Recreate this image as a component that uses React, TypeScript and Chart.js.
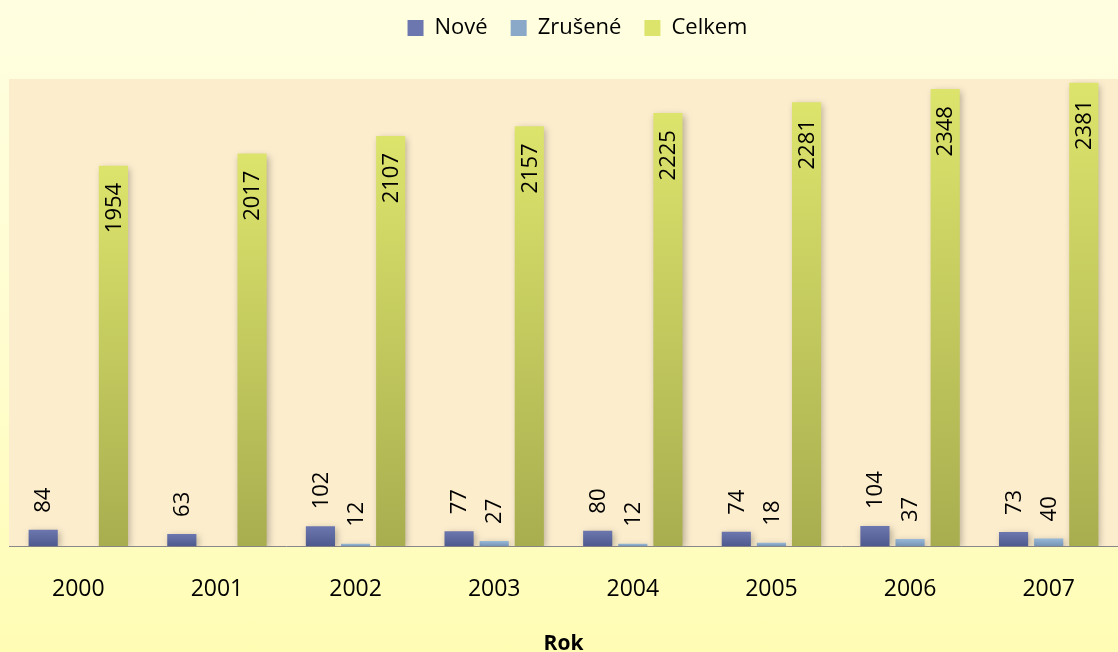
import React, { useEffect, useRef } from "react";
import { Chart, registerables } from "chart.js";

Chart.register(...registerables);

const years = ["2000", "2001", "2002", "2003", "2004", "2005", "2006", "2007"];
const nove = [84, 63, 102, 77, 80, 74, 104, 73];
const zrusene = [null, null, 12, 27, 12, 18, 37, 40];
const celkem = [1954, 2017, 2107, 2157, 2225, 2281, 2348, 2381];
const seriesNames = ["Nové", "Zrušené", "Celkem"];
const axisTitle = "Rok";

const FONT = "'Open Sans', 'Noto Sans', sans-serif";

const gradients: [string, string][] = [
  ["#6C77AF", "#4E5A8E"],
  ["#9ABAD9", "#7593B4"],
  ["#DDE46C", "#A8AE4F"],
];
const solids = ["#5D67A0", "#8AA9C9", "#C8CE5E"];

function barColor(i: number) {
  return (ctx: any) => {
    const chart = ctx.chart;
    const v = ctx.raw;
    if (!chart.chartArea || v == null || ctx.type !== "data") return solids[i];
    const y = chart.scales.y;
    const top = y.getPixelForValue(v);
    const bottom = y.getPixelForValue(0);
    const g = chart.ctx.createLinearGradient(0, top, 0, bottom);
    g.addColorStop(0, gradients[i][0]);
    g.addColorStop(1, gradients[i][1]);
    return g;
  };
}

const plotBg = {
  id: "plotBg",
  beforeDraw(chart: any) {
    const { ctx, chartArea } = chart;
    ctx.save();
    ctx.fillStyle = "#FCEDCD";
    ctx.fillRect(chartArea.left, chartArea.top, chartArea.right - chartArea.left, chartArea.bottom - chartArea.top);
    ctx.restore();
  },
};

const legendSpace = {
  id: "legendSpace",
  afterInit(chart: any) {
    const legend = chart.legend;
    if (!legend) return;
    const orig = legend.fit;
    legend.fit = function () {
      orig.call(this);
      this.height = 79;
    };
  },
  afterLayout(chart: any) {
    const legend = chart.legend;
    if (!legend) return;
    legend.top -= 6;
    legend.bottom -= 6;
    legend.left += 14;
    legend.right += 14;
  },
};

const barShadow = {
  id: "barShadow",
  beforeDatasetDraw(chart: any) {
    const ctx = chart.ctx;
    ctx.save();
    ctx.shadowColor = "rgba(0,0,0,0.28)";
    ctx.shadowBlur = 7;
    ctx.shadowOffsetX = 2;
    ctx.shadowOffsetY = 2;
  },
  afterDatasetDraw(chart: any) {
    chart.ctx.restore();
  },
};

const valueLabels = {
  id: "valueLabels",
  afterDatasetsDraw(chart: any) {
    const ctx = chart.ctx;
    ctx.save();
    ctx.font = `22px ${FONT}`;
    ctx.fillStyle = "#000";
    ctx.textBaseline = "middle";
    chart.data.datasets.forEach((ds: any, di: number) => {
      const meta = chart.getDatasetMeta(di);
      meta.data.forEach((bar: any, i: number) => {
        const v = ds.data[i];
        if (v == null) return;
        ctx.save();
        if (di === 2) {
          ctx.translate(bar.x, bar.y + 17);
          ctx.rotate(-Math.PI / 2);
          ctx.textAlign = "right";
        } else {
          ctx.translate(bar.x, bar.y - 17);
          ctx.rotate(-Math.PI / 2);
          ctx.textAlign = "left";
        }
        ctx.fillText(String(v), 0, 1);
        ctx.restore();
      });
    });
    ctx.restore();
  },
};

export default function App() {
  const ref = useRef<HTMLCanvasElement | null>(null);
  useEffect(() => {
    document.body.style.margin = "0";
    const chart = new Chart(ref.current as HTMLCanvasElement, {
      type: "bar",
      data: {
        labels: years,
        datasets: [
          { label: seriesNames[0], data: nove, backgroundColor: barColor(0) },
          { label: seriesNames[1], data: zrusene as any, backgroundColor: barColor(1) },
          { label: seriesNames[2], data: celkem, backgroundColor: barColor(2) },
        ],
      },
      options: {
        responsive: false,
        animation: false,
        layout: { padding: { left: 9, right: 0, top: 0, bottom: 0 } },
        datasets: { bar: { categoryPercentage: 0.76, barPercentage: 0.83 } },
        plugins: {
          legend: {
            position: "top",
            labels: {
              font: { family: FONT, size: 22 },
              color: "#000",
              boxWidth: 16,
              boxHeight: 16,
              padding: 23,
            },
          },
          tooltip: { enabled: false },
        },
        scales: {
          x: {
            grid: { display: false, drawTicks: false },
            border: { display: true, color: "#888888", width: 1 },
            ticks: { font: { family: FONT, size: 23 }, color: "#000", padding: 29 },
            title: {
              display: true,
              text: axisTitle,
              font: { family: FONT, size: 21, weight: "bold" },
              color: "#000",
              padding: { top: 0, bottom: -5 },
            },
          },
          y: { display: false, min: 0, max: 2400 },
        },
      },
      plugins: [plotBg, legendSpace, barShadow, valueLabels],
    });
    return () => chart.destroy();
  }, []);
  return (
    <div
      style={{
        position: "absolute",
        left: 0,
        top: 0,
        width: 1118,
        height: 652,
        background: "linear-gradient(to bottom, #FFFEE0 0%, #FFFDD0 50%, #FFFDB4 100%)",
      }}
    >
      <canvas ref={ref} width={1118} height={652} />
    </div>
  );
}
